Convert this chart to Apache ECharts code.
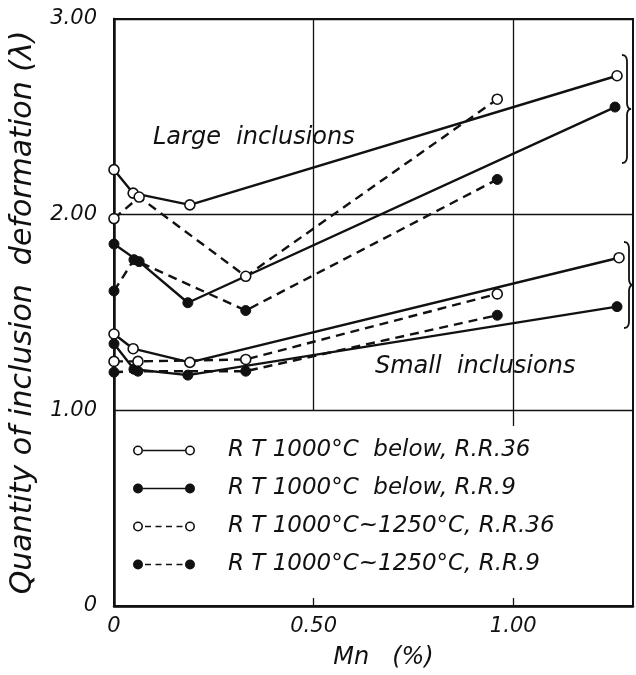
<!DOCTYPE html>
<html>
<head>
<meta charset="utf-8">
<title>Inclusion deformation vs Mn</title>
<script src="https://cdn.jsdelivr.net/npm/echarts@6/dist/echarts.min.js"></script>
<style>
    html, body { margin:0; padding:0; background:#fff; }
    #chart { width:636px; height:675px; }
</style>
</head>
<body>
<div id="chart"></div>
<script>
// Mn (%) / deformation pairs
var largeBelow36  = [[0, 2.23], [0.048, 2.11], [0.19, 2.05], [1.26, 2.71]];
var largeBelow9   = [[0, 1.85], [0.063, 1.76], [0.185, 1.55], [1.255, 2.55]];
var largeRange36  = [[0, 1.98], [0.063, 2.09], [0.33, 1.685], [0.96, 2.59]];
var largeRange9   = [[0, 1.61], [0.05, 1.77], [0.33, 1.51], [0.96, 2.18]];

var smallBelow36  = [[0, 1.39], [0.048, 1.315], [0.19, 1.245], [1.265, 1.78]];
var smallBelow9   = [[0, 1.34], [0.05, 1.21], [0.185, 1.18], [1.26, 1.53]];
var smallRange36  = [[0, 1.25], [0.06, 1.25], [0.33, 1.26], [0.96, 1.595]];
var smallRange9   = [[0, 1.195], [0.06, 1.20], [0.33, 1.20], [0.96, 1.486]];

var seriesNames = [
    'R T 1000°C  below, R.R.36',
    'R T 1000°C  below, R.R.9',
    'R T 1000°C~1250°C, R.R.36',
    'R T 1000°C~1250°C, R.R.9'
];
var xTicks = [0, 0.5, 1.0];
var yTicks = [0, 1, 2, 3];

var FONT = 'DejaVu Sans';
var INK = '#111';

// legend glyphs: circle - line - circle
var ringL = 'M0,5A5,5,0,1,0,10,5A5,5,0,1,0,0,5ZM1.6,5A3.4,3.4,0,1,1,8.4,5A3.4,3.4,0,1,1,1.6,5Z';
var ringR = 'M52,5A5,5,0,1,0,62,5A5,5,0,1,0,52,5ZM53.6,5A3.4,3.4,0,1,1,60.4,5A3.4,3.4,0,1,1,53.6,5Z';
var dotL = 'M0,5A5,5,0,1,0,10,5A5,5,0,1,0,0,5Z';
var dotR = 'M52,5A5,5,0,1,0,62,5A5,5,0,1,0,52,5Z';
var solidBar = 'M10,4.2L52,4.2L52,5.8L10,5.8Z';
var dashBar = 'M12,4.2L18,4.2L18,5.8L12,5.8ZM22.5,4.2L28.5,4.2L28.5,5.8L22.5,5.8ZM33,4.2L39,4.2L39,5.8L33,5.8ZM43.5,4.2L49.5,4.2L49.5,5.8L43.5,5.8Z';
var legendIcons = [
    'path://' + ringL + solidBar + ringR,
    'path://' + dotL + solidBar + dotR,
    'path://' + ringL + dashBar + ringR,
    'path://' + dotL + dashBar + dotR
];

function makeSeries(name, data, open, dashed){
    return {
        name: name,
        type: 'line',
        data: data,
        symbol: 'circle',
        symbolSize: 10,
        z: 3,
        lineStyle: { color: INK, width: 2.4, type: dashed ? [9, 6] : 'solid' },
        itemStyle: open ? { color: '#fff', borderColor: INK, borderWidth: 1.6 }
                        : { color: INK, borderColor: INK, borderWidth: 1 },
        emphasis: { disabled: true }
    };
}

var series = [
    makeSeries(seriesNames[0], largeBelow36, true, false),
    makeSeries(seriesNames[1], largeBelow9, false, false),
    makeSeries(seriesNames[2], largeRange36, true, true),
    makeSeries(seriesNames[3], largeRange9, false, true),
    makeSeries(seriesNames[0], smallBelow36, true, false),
    makeSeries(seriesNames[1], smallBelow9, false, false),
    makeSeries(seriesNames[2], smallRange36, true, true),
    makeSeries(seriesNames[3], smallRange9, false, true)
];

// vertical grid lines only in the upper part of the plot
series.push({
    type: 'line',
    data: [],
    silent: true,
    markLine: {
        symbol: 'none',
        silent: true,
        label: { show: false },
        lineStyle: { color: INK, width: 1.3, type: 'solid' },
        data: [
            [{ coord: [0.5, 1] }, { coord: [0.5, 3] }],
            [{ coord: [1.0, 0.92] }, { coord: [1.0, 3] }]
        ]
    }
});

var legendData = [];
for(var i=0;i<seriesNames.length;i++){
    legendData.push({
        name: seriesNames[i],
        icon: legendIcons[i],
        itemStyle: { color: INK, borderWidth: 0 }
    });
}

// curly brace "}" as a polyline, sampled from quadratic corners
function quad(p0, p1, p2, out){
    for(var t=0.1;t<=1.001;t+=0.1){
        var a = (1-t)*(1-t), b = 2*(1-t)*t, c = t*t;
        out.push([a*p0[0]+b*p1[0]+c*p2[0], a*p0[1]+b*p1[1]+c*p2[1]]);
    }
}
function brace(top, bottom, x){
    var mid = (top + bottom) / 2;
    var pts = [[x, top]];
    quad([x, top], [x+5, top], [x+5, top+7], pts);
    pts.push([x+5, mid-7]);
    quad([x+5, mid-7], [x+5, mid], [x+9, mid], pts);
    quad([x+9, mid], [x+5, mid], [x+5, mid+7], pts);
    pts.push([x+5, bottom-7]);
    quad([x+5, bottom-7], [x+5, bottom], [x, bottom], pts);
    return {
        type: 'polyline',
        shape: { points: pts },
        style: { fill: null, stroke: INK, lineWidth: 1.8 },
        z: 10
    };
}

var myChart = echarts.init(document.getElementById('chart'));
var option = {
    backgroundColor: '#fff',
    animation: false,
    grid: {
        left: 111, right: 3, top: 19, bottom: 68,
        show: true, borderColor: INK, borderWidth: 2
    },
    xAxis: {
        type: 'value',
        min: 0, max: 1.3,
        name: 'Mn   (%)',
        nameLocation: 'middle',
        nameGap: 40,
        nameTextStyle: { fontFamily: FONT, fontStyle: 'italic', fontSize: 24, color: INK, padding: [0, 0, 0, 20] },
        axisLine: { lineStyle: { color: INK, width: 2.5 } },
        axisTick: { show: true, inside: true, length: 8, customValues: [0.5, 1.0], lineStyle: { color: INK, width: 1.3 } },
        axisLabel: {
            customValues: xTicks,
            margin: 10,
            fontFamily: FONT, fontStyle: 'italic', fontSize: 21, color: INK,
            formatter: function(v){ return v === 0 ? '0' : v.toFixed(2); }
        },
        splitLine: { show: false }
    },
    yAxis: {
        type: 'value',
        min: 0, max: 3, interval: 1,
        name: 'Quantity of inclusion  deformation (λ)',
        nameLocation: 'middle',
        nameRotate: 90,
        nameGap: 76,
        nameTextStyle: { fontFamily: FONT, fontStyle: 'italic', fontSize: 30, color: INK },
        axisLine: { lineStyle: { color: INK, width: 2.5 } },
        axisTick: { show: false },
        axisLabel: {
            customValues: yTicks,
            margin: 17,
            fontFamily: FONT, fontStyle: 'italic', fontSize: 21, color: INK,
            formatter: function(v){ return v === 0 ? '0' : v.toFixed(2); }
        },
        splitLine: { show: true, lineStyle: { color: INK, width: 1.3 } }
    },
    legend: {
        orient: 'vertical',
        left: 128,
        top: 434,
        itemWidth: 62,
        itemHeight: 10,
        itemGap: 15,
        selectedMode: false,
        data: legendData,
        textStyle: {
            fontFamily: FONT, fontStyle: 'italic', fontSize: 23, color: INK,
            rich: { t: { fontFamily: FONT, fontStyle: 'italic', fontSize: 23, color: INK, padding: [0, 0, 0, 28] } }
        },
        formatter: function(name){ return '{t|' + name + '}'; }
    },
    graphic: [
        {
            type: 'text', left: 153, top: 126, z: 10,
            style: { text: 'Large  inclusions', fontFamily: FONT, fontStyle: 'italic', fontSize: 24, fill: INK }
        },
        {
            type: 'text', left: 375, top: 355, z: 10,
            style: { text: 'Small  inclusions', fontFamily: FONT, fontStyle: 'italic', fontSize: 24, fill: INK }
        },
        brace(55, 163, 622),
        brace(242, 328, 624)
    ],
    series: series
};

myChart.setOption(option);
</script>
</body>
</html>
